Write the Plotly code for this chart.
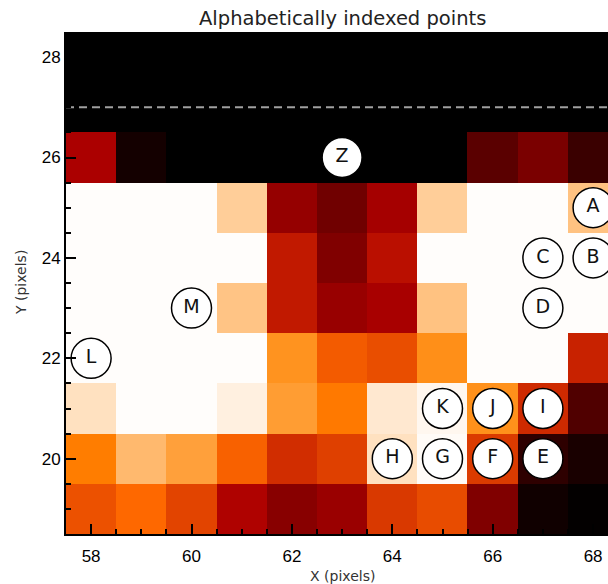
import plotly.graph_objects as go

# Pixel grid (column / row centres)
x_pix = [58, 59, 60, 61, 62, 63, 64, 65, 66, 67, 68]
y_pix = [19, 20, 21, 22, 23, 24, 25, 26, 27, 28]

# Image intensity (0-255 display index), one list per row, bottom row first
row_19 = [163, 175, 156, 121, 94, 106, 150, 160, 88, 11, 2]
row_20 = [186, 218, 205, 171, 144, 154, 239, 253, 151, 32, 17]
row_21 = [239, 254, 254, 247, 203, 184, 243, 251, 197, 142, 55]
row_22 = [254, 254, 254, 254, 198, 168, 161, 196, 254, 254, 138]
row_23 = [254, 254, 254, 224, 133, 105, 116, 223, 254, 254, 254]
row_24 = [254, 254, 254, 254, 133, 88, 128, 254, 254, 254, 254]
row_25 = [254, 254, 254, 229, 103, 77, 114, 229, 254, 254, 223]
row_26 = [118, 14, 0, 0, 0, 0, 0, 0, 62, 84, 40]
row_27 = [0, 0, 0, 0, 0, 0, 0, 0, 0, 0, 0]
row_28 = [0, 0, 0, 0, 0, 0, 0, 0, 0, 0, 0]

# Labelled points
point_labels = ["A", "B", "C", "D", "E", "F", "G", "H", "I", "J", "K", "L", "M", "Z"]
point_x = [68, 68, 67, 67, 67, 66, 65, 64, 67, 66, 65, 58, 60, 63]
point_y = [25, 24, 24, 23, 20, 20, 20, 20, 21, 21, 21, 22, 23, 26]

# Horizontal reference level
ref_level = 27

z = [row_19, row_20, row_21, row_22, row_23, row_24, row_25, row_26, row_27, row_28]

# "Red temperature" colour table: R ramps first, then G, then B
red_temp = [
    [0.0, "rgb(0,0,0)"],
    [120 / 255, "rgb(174,0,0)"],
    [176 / 255, "rgb(255,106,0)"],
    [190 / 255, "rgb(255,132,0)"],
    [1.0, "rgb(255,255,255)"],
]

W, H = 608, 584
m_l, m_r, m_t, m_b = 66, 0, 32, 50
plot_h = H - m_t - m_b
px_per_unit = plot_h / 10.0
x_lo = 57.5
x_hi = x_lo + (W - m_l - m_r) / px_per_unit

fig = go.Figure()

fig.add_trace(go.Heatmap(
    x=x_pix, y=y_pix, z=z,
    zmin=0, zmax=255,
    colorscale=red_temp,
    showscale=False,
    hoverinfo="skip",
))

fig.add_trace(go.Scatter(
    x=[x_lo, x_hi], y=[ref_level, ref_level],
    mode="lines",
    line=dict(color="#a0a0a0", width=2, dash="8px,5px"),
    hoverinfo="skip",
    showlegend=False,
))

fig.add_trace(go.Scatter(
    x=point_x, y=point_y, text=point_labels,
    mode="markers+text",
    textposition="middle center",
    marker=dict(size=40, color="white", line=dict(color="black", width=1.5)),
    textfont=dict(family="DejaVu Sans", size=19, color="#111111"),
    hoverinfo="skip",
    showlegend=False,
))

axis_font = dict(family="Liberation Sans", size=17, color="black")

fig.update_xaxes(
    range=[x_lo, x_hi],
    tick0=0, dtick=2,
    ticks="inside", ticklen=10, tickwidth=1.5, tickcolor="black",
    minor=dict(dtick=0.5, tick0=0, ticks="inside", ticklen=5, tickwidth=1.5, tickcolor="black"),
    showline=True, linecolor="black", linewidth=2,
    showgrid=False, zeroline=False,
    tickfont=axis_font,
    ticklabelstandoff=6,
)
fig.update_yaxes(
    range=[18.5, 28.5],
    tick0=0, dtick=2,
    ticks="inside", ticklen=10, tickwidth=1.5, tickcolor="black",
    minor=dict(dtick=0.5, tick0=0, ticks="inside", ticklen=5, tickwidth=1.5, tickcolor="black"),
    showline=True, linecolor="black", linewidth=2,
    showgrid=False, zeroline=False,
    tickfont=axis_font,
)

fig.add_annotation(
    text="Alphabetically indexed points",
    x=63, xref="x",
    y=(H - m_b - 18) / plot_h, yref="paper",
    yanchor="middle", showarrow=False,
    font=dict(family="DejaVu Sans", size=19.5, color="#222222"),
)
fig.add_annotation(
    text="X (pixels)",
    x=63, xref="x",
    y=-(576 - (H - m_b)) / plot_h, yref="paper",
    yanchor="middle", showarrow=False,
    font=dict(family="DejaVu Sans", size=14, color="#333333"),
)
fig.add_annotation(
    text="Y (pixels)",
    x=-(m_l - 21) / (W - m_l - m_r), xref="paper",
    y=23.5, yref="y",
    xanchor="center", yanchor="middle", textangle=-90, showarrow=False,
    font=dict(family="DejaVu Sans", size=14, color="#333333"),
)

fig.update_layout(
    width=W, height=H,
    margin=dict(l=m_l, r=m_r, t=m_t, b=m_b, pad=0),
    paper_bgcolor="white", plot_bgcolor="white",
    showlegend=False,
)

fig.write_html("out.html")
